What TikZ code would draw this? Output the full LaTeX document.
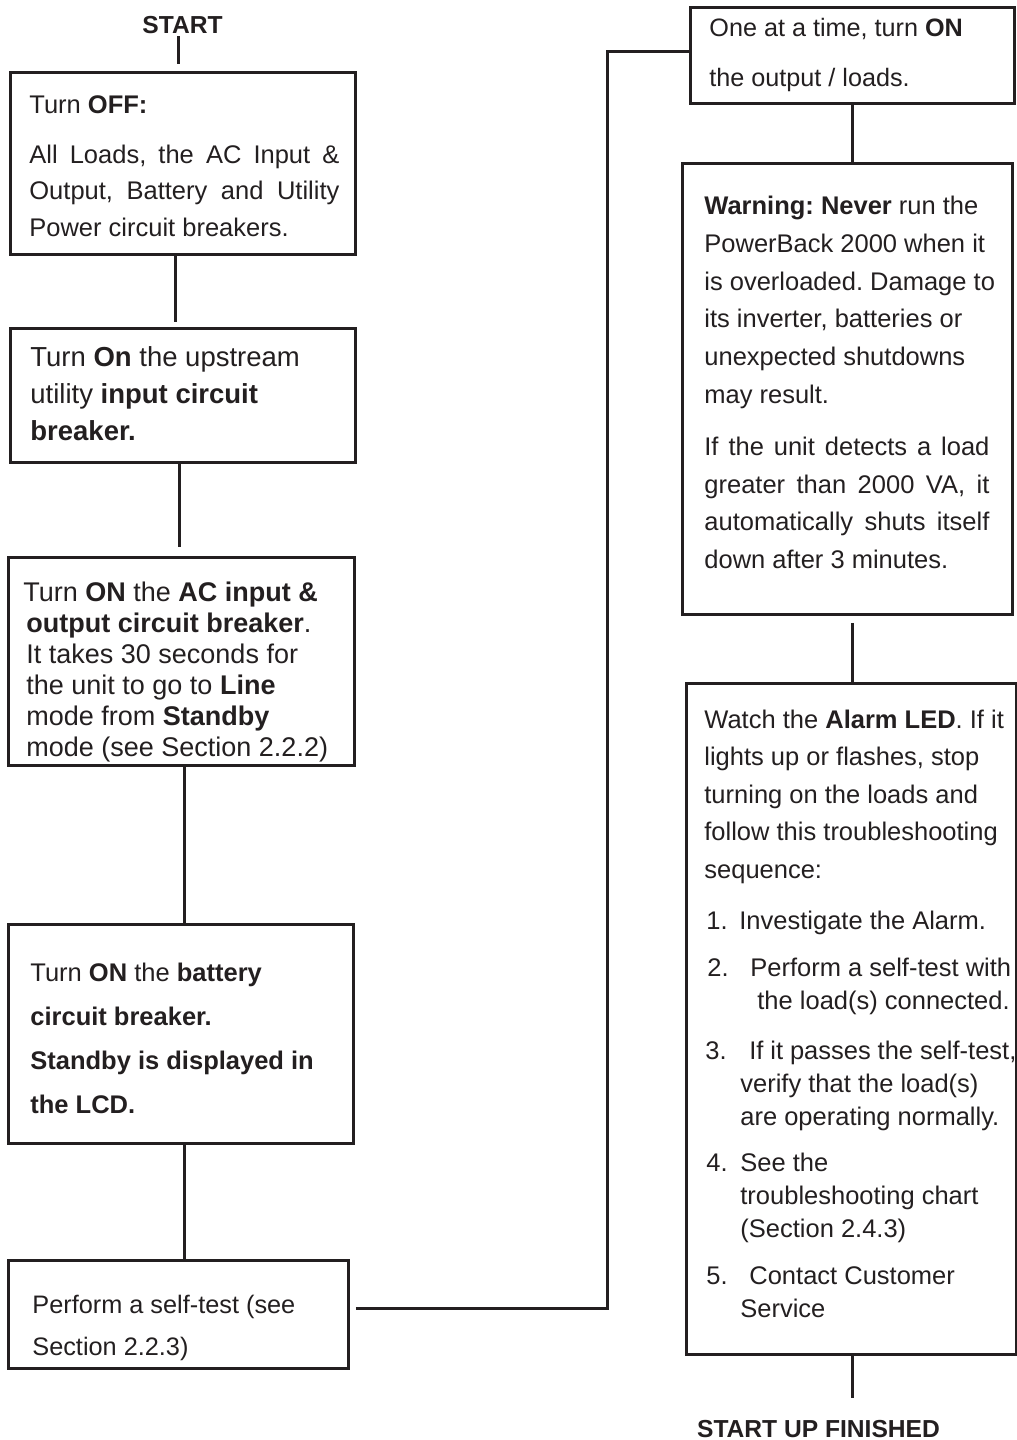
\documentclass[tikz,border=0pt]{standalone}
\usepackage{fontspec}
\setmainfont{Liberation Sans}
\definecolor{inkgray}{RGB}{35,31,32}
% fixed-size text block: height, width, left pad, first baseline, text
\newcommand{\boxtext}[5]{\parbox[t][#1][t]{#2}{\frenchspacing\leftskip=#3\rightskip=0pt plus 1fil\relax\rule{0pt}{#4}#5}}

\begin{document}
\begin{tikzpicture}[x=1pt,y=-1pt,
        stepbox/.style={draw=inkgray,line width=2.8pt,inner sep=0pt,
                        anchor=north west,text=inkgray},
        tag/.style={inner sep=0pt,anchor=base,text=inkgray,
                    font=\fontsize{24.6}{28}\selectfont\bfseries},
        link/.style={draw=inkgray,line width=3pt}]
  \useasboundingbox (0,0) rectangle (1017,1440);

  % left column
  \node[tag] (start) at (182.5,33) {START};
  \node[stepbox] (off) at (9,71) {\boxtext{182pt}{345pt}{19pt}{41pt}{%
    \fontsize{25.5}{36.5}\selectfont\rightskip=16pt
    Turn \textbf{OFF:}\\[13.5pt]
    All Loads, the AC Input \&\linebreak
    Output, Battery and Utility\linebreak
    Power circuit breakers.}};
  \node[stepbox] (upstream) at (9,327) {\boxtext{134pt}{345pt}{20pt}{38pt}{%
    \fontsize{27.5}{37}\selectfont
    Turn \textbf{On} the upstream\\
    utility \textbf{input circuit}\\
    \textbf{breaker.}}};
  \node[stepbox] (acbreaker) at (7,556) {\boxtext{208pt}{346pt}{18pt}{44pt}{%
    \fontsize{27}{31}\selectfont
    \hspace*{-3pt}Turn \textbf{ON} the \textbf{AC input \&}\\
    \textbf{output circuit breaker}.\\
    It takes 30 seconds for\\
    the unit to go to \textbf{Line}\\
    mode from \textbf{Standby}\\
    mode (see Section 2.2.2)}};
  \node[stepbox] (battery) at (7,923) {\boxtext{219pt}{345pt}{22pt}{57pt}{%
    \fontsize{25.5}{44}\selectfont
    Turn \textbf{ON} the \textbf{battery}\\
    \textbf{circuit breaker.}\\
    \textbf{Standby is displayed in}\\
    \textbf{the LCD.}}};
  \node[stepbox] (selftest) at (7,1259) {\boxtext{108pt}{340pt}{24pt}{53pt}{%
    \fontsize{25.3}{42}\selectfont
    Perform a self-test (see\\
    Section 2.2.3)}};

  % right column
  \node[stepbox] (loads) at (689,6) {\boxtext{96pt}{324pt}{19pt}{29pt}{%
    \fontsize{25.2}{50}\selectfont
    One at a time, turn \textbf{ON}\\
    the output / loads.}};
  \node[stepbox] (warning) at (681,162) {\boxtext{451pt}{330pt}{22pt}{51pt}{%
    \fontsize{25.5}{37.8}\selectfont
    \textbf{Warning: Never} run the\\
    PowerBack 2000 when it\\
    is overloaded. Damage to\\
    its inverter, batteries or\\
    unexpected shutdowns\\
    may result.\par\vspace{14pt}\rightskip=23pt
    If the unit detects a load\linebreak
    greater than 2000 VA, it\linebreak
    automatically shuts itself\linebreak
    down after 3 minutes.}};
  \node[stepbox] (alarm) at (685,682) {\boxtext{671pt}{330pt}{18pt}{45pt}{%
    \fontsize{25.5}{33}\selectfont
    Watch the \textbf{Alarm LED}. If it\\[4.5pt]
    lights up or flashes, stop\\[4.5pt]
    turning on the loads and\\[4.5pt]
    follow this troubleshooting\\[4.5pt]
    sequence:\\[18pt]
    \hspace*{2pt}\makebox[33pt][l]{1.}Investigate the Alarm.\\[14pt]
    \hspace*{3pt}\makebox[43pt][l]{2.}Perform a self-test with\\
    \hspace*{53pt}the load(s) connected.\\[17pt]
    \hspace*{1pt}\makebox[44pt][l]{3.}If it passes the self-test,\\
    \hspace*{36pt}verify that the load(s)\\
    \hspace*{36pt}are operating normally.\\[13pt]
    \hspace*{2pt}\makebox[34pt][l]{4.}See the\\
    \hspace*{36pt}troubleshooting chart\\
    \hspace*{36pt}(Section 2.4.3)\\[14pt]
    \hspace*{2pt}\makebox[43pt][l]{5.}Contact Customer\\
    \hspace*{36pt}Service}};
  \node[tag] (finished) at (818.5,1437) {START UP FINISHED};

  % connectors
  \draw[link,shorten <=3pt,shorten >=7pt] ([xshift=-4.5pt]start.south) -- ([xshift=-4.5pt]start.south |- off.north);
  \draw[link,shorten >=5pt] ([xshift=-7pt]off.south) -- ([xshift=-7pt]upstream.north);
  \draw[link,shorten >=9pt] ([xshift=-3.5pt]upstream.south) -- ([xshift=-2pt]acbreaker.north);
  \draw[link] ([xshift=3pt]acbreaker.south) -- ([xshift=3.5pt]battery.north);
  \draw[link] ([xshift=3.5pt]battery.south) -- ([xshift=6pt]selftest.north);
  \draw[link,shorten <=6pt] ([yshift=6pt]selftest.east)
    -| ([xshift=-82pt,yshift=4pt]loads.west) -- ([yshift=4pt]loads.west);
  \draw[link] (loads.south) -- ([xshift=5pt]warning.north);
  \draw[link,shorten <=7pt] ([xshift=5pt]warning.south) -- ([xshift=1pt]alarm.north);
  \draw[link,shorten >=22pt] ([xshift=1pt]alarm.south) -- ([xshift=1pt]alarm.south |- finished.north);
\end{tikzpicture}
\end{document}
